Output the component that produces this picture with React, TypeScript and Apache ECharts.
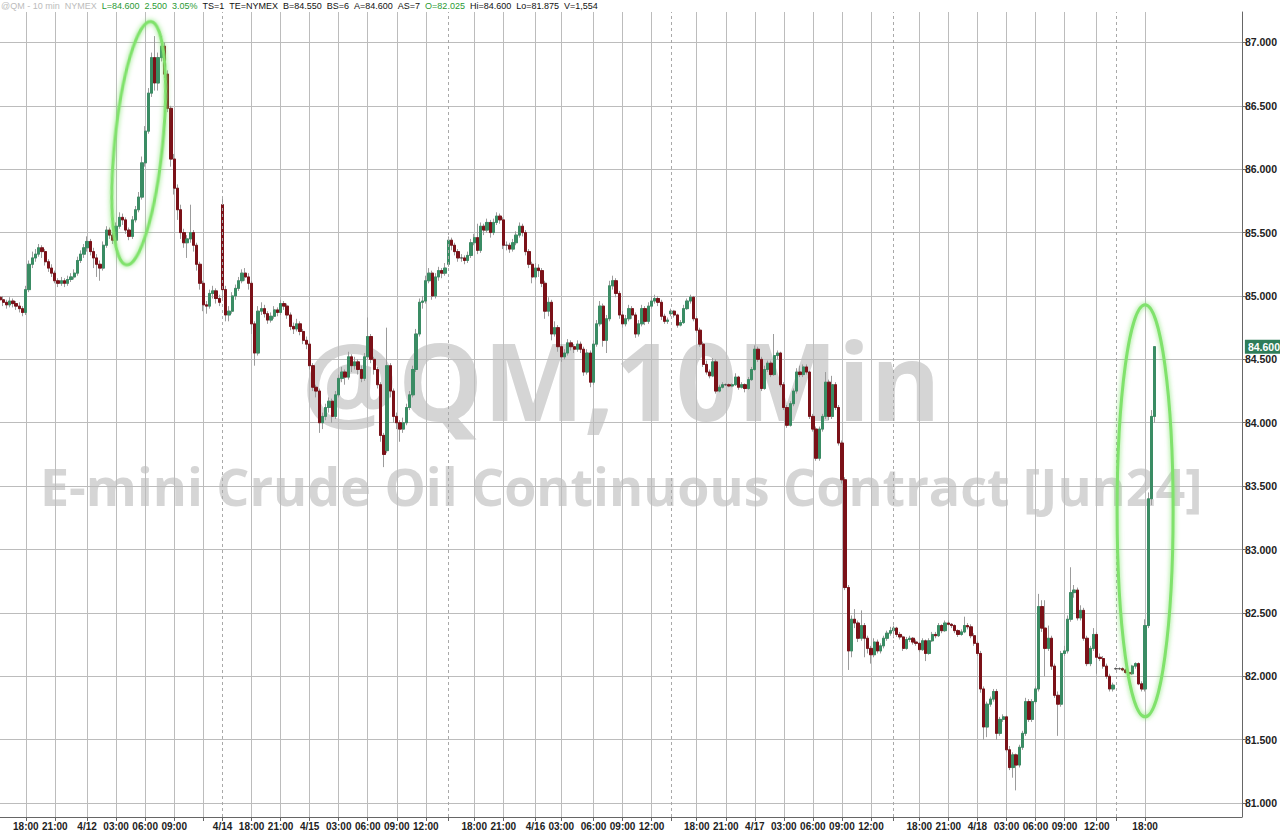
import React, { useEffect, useRef } from 'react';
import * as echarts from 'echarts';

// ---- DATA: 10-min candles, each [open, high, low, close], grouped by session ----
const session1 = [
  [84.99,85.02,84.94,84.97],[84.97,85.00,84.92,84.95],[84.95,84.97,84.90,84.93],[84.93,84.99,84.91,84.96],
  [84.96,84.98,84.91,84.94],[84.94,84.96,84.89,84.92],[84.92,84.95,84.87,84.90],[84.90,84.92,84.84,84.87],
  [84.87,85.08,84.85,85.05],[85.05,85.28,85.03,85.25],[85.25,85.35,85.22,85.30],[85.30,85.37,85.27,85.33],
  [85.33,85.41,85.31,85.38],[85.38,85.40,85.30,85.35],[85.35,85.37,85.24,85.27],[85.27,85.29,85.19,85.22],
  [85.22,85.25,85.15,85.18],[85.18,85.20,85.10,85.12],[85.12,85.14,85.07,85.10],[85.10,85.15,85.08,85.12],
  [85.12,85.14,85.07,85.10],[85.10,85.16,85.08,85.13],[85.13,85.18,85.11,85.15],[85.15,85.21,85.13,85.18],
  [85.18,85.31,85.16,85.28],[85.28,85.36,85.26,85.33],[85.33,85.41,85.30,85.38],[85.38,85.47,85.35,85.43],
  [85.43,85.45,85.32,85.35],[85.35,85.38,85.22,85.30],[85.30,85.33,85.15,85.25],[85.25,85.28,85.12,85.22],
  [85.22,85.43,85.20,85.40],[85.40,85.55,85.38,85.52],[85.52,85.54,85.45,85.48],[85.48,85.50,85.41,85.44],
  [85.44,85.58,85.42,85.55],[85.55,85.66,85.53,85.62],[85.62,85.65,85.56,85.60],[85.60,85.62,85.49,85.52],
  [85.52,85.54,85.44,85.47],[85.47,85.63,85.45,85.60],[85.60,85.71,85.58,85.68],[85.68,85.82,85.66,85.78],
  [85.78,86.10,85.76,86.05],[86.05,86.34,86.02,86.30],[86.30,86.64,86.28,86.60],[86.60,86.92,86.57,86.88],
  [86.88,87.05,86.62,86.68],[86.68,86.92,86.62,86.88],[86.88,87.05,86.85,86.97],[86.97,87.00,86.72,86.75],
  [86.75,86.78,86.45,86.48],[86.48,86.50,86.02,86.08],[86.08,86.12,85.80,85.85],[85.85,85.88,85.60,85.68],
  [85.68,85.72,85.45,85.50],[85.50,85.53,85.38,85.42],[85.42,85.48,85.30,85.45],[85.45,85.72,85.42,85.50],
  [85.50,85.52,85.35,85.40],[85.40,85.42,85.20,85.25],[85.25,85.27,85.05,85.10],[85.10,85.12,84.88,84.93],
  [84.93,84.96,84.86,84.92],[84.92,85.05,84.90,85.02],[85.02,85.08,84.98,85.04],[85.04,85.06,84.94,84.98],
  [84.98,85.01,84.92,84.95],
];
const session2 = [
  [85.72,85.78,84.98,85.05],[85.05,85.08,84.80,84.85],[84.85,84.92,84.80,84.88],[84.88,85.03,84.86,85.00],
  [85.00,85.09,84.97,85.06],[85.06,85.15,85.04,85.12],[85.12,85.21,85.10,85.18],[85.18,85.22,85.12,85.15],
  [85.15,85.18,85.05,85.10],[85.10,85.12,84.70,84.78],[84.78,84.80,84.45,84.55],[84.55,84.92,84.53,84.88],
  [84.88,84.95,84.85,84.90],[84.90,84.93,84.83,84.86],[84.86,84.88,84.78,84.81],[84.81,84.87,84.79,84.84],
  [84.84,84.92,84.82,84.89],[84.89,84.91,84.84,84.87],[84.87,84.97,84.85,84.94],[84.94,84.96,84.89,84.92],
  [84.92,84.94,84.82,84.85],[84.85,84.87,84.73,84.76],[84.76,84.79,84.70,84.74],[84.74,84.82,84.72,84.78],
  [84.78,84.80,84.69,84.72],[84.72,84.74,84.62,84.65],[84.65,84.68,84.58,84.62],[84.62,84.64,84.42,84.45],
  [84.45,84.47,84.25,84.28],[84.28,84.30,84.20,84.25],[84.25,84.27,83.92,84.00],[84.00,84.08,83.95,84.05],
  [84.05,84.15,84.02,84.12],[84.12,84.20,84.08,84.17],[84.17,84.19,84.00,84.05],[84.05,84.25,84.03,84.22],
  [84.22,84.38,84.20,84.35],[84.35,84.44,84.32,84.40],[84.40,84.42,84.30,84.36],[84.36,84.56,84.34,84.52],
  [84.52,84.54,84.40,84.45],[84.45,84.52,84.42,84.48],[84.48,84.50,84.38,84.42],[84.42,84.45,84.32,84.35],
  [84.35,84.55,84.33,84.52],[84.52,84.83,84.50,84.68],[84.68,84.70,84.47,84.50],[84.50,84.52,84.38,84.42],
  [84.42,84.44,84.27,84.30],[84.30,84.32,83.85,83.90],[83.90,83.92,83.65,83.75],[83.78,84.75,83.76,84.45],
  [84.45,84.47,84.20,84.25],[84.25,84.27,84.00,84.05],[84.05,84.08,83.95,84.00],[84.00,84.02,83.85,83.95],
  [83.95,84.04,83.92,84.00],[84.00,84.15,83.98,84.12],[84.12,84.25,84.10,84.22],[84.22,84.45,84.20,84.42],
  [84.42,84.74,84.40,84.70],[84.70,84.98,84.68,84.95],[84.95,85.00,84.90,84.96],[84.96,85.16,84.94,85.12],
  [85.12,85.22,85.10,85.18],[85.18,85.20,84.97,85.00],[85.00,85.18,84.98,85.15],[85.15,85.23,85.12,85.20],
  [85.20,85.22,85.14,85.18],[85.18,85.26,85.16,85.22],
];
const session3 = [
  [85.25,85.47,85.23,85.44],[85.44,85.46,85.36,85.40],[85.40,85.42,85.32,85.35],[85.35,85.37,85.27,85.30],
  [85.30,85.33,85.27,85.30],[85.30,85.32,85.25,85.28],[85.28,85.35,85.26,85.32],[85.32,85.45,85.30,85.42],
  [85.42,85.49,85.40,85.46],[85.46,85.57,85.33,85.36],[85.36,85.58,85.34,85.55],[85.55,85.57,85.48,85.52],
  [85.52,85.61,85.50,85.58],[85.58,85.60,85.46,85.50],[85.50,85.61,85.48,85.58],[85.58,85.66,85.56,85.63],
  [85.63,85.65,85.57,85.60],[85.60,85.62,85.37,85.40],[85.40,85.43,85.36,85.40],[85.40,85.42,85.34,85.37],
  [85.37,85.45,85.35,85.42],[85.42,85.51,85.40,85.48],[85.48,85.58,85.46,85.55],[85.55,85.57,85.47,85.50],
  [85.50,85.52,85.32,85.35],[85.35,85.37,85.22,85.25],[85.25,85.27,85.10,85.15],[85.15,85.26,85.13,85.22],
  [85.22,85.25,85.15,85.20],[85.20,85.22,85.07,85.10],[85.10,85.12,84.82,84.88],[84.88,84.99,84.84,84.95],
  [84.95,84.97,84.65,84.70],[84.70,84.80,84.68,84.75],[84.75,84.77,84.56,84.60],[84.60,84.62,84.48,84.52],
  [84.52,84.58,84.50,84.55],[84.55,84.66,84.53,84.63],[84.63,84.65,84.57,84.60],[84.60,84.62,84.55,84.58],
  [84.58,84.65,84.56,84.62],[84.62,84.64,84.55,84.58],[84.58,84.60,84.37,84.40],[84.40,84.58,84.38,84.55],
  [84.55,84.57,84.28,84.32],[84.32,84.65,84.30,84.62],[84.62,84.81,84.60,84.78],[84.78,84.96,84.76,84.92],
  [84.92,84.94,84.60,84.65],[84.65,84.85,84.55,84.82],[84.82,85.12,84.80,85.08],[85.08,85.16,85.05,85.12],
  [85.12,85.14,84.99,85.02],[85.02,85.04,84.82,84.85],[84.85,84.88,84.75,84.78],[84.78,84.85,84.76,84.82],
  [84.82,84.93,84.80,84.90],[84.90,84.92,84.82,84.85],[84.85,84.87,84.67,84.70],[84.70,84.81,84.68,84.78],
  [84.78,84.93,84.76,84.90],[84.90,84.92,84.77,84.80],[84.80,84.95,84.78,84.92],[84.92,85.00,84.90,84.96],
  [84.96,85.01,84.94,84.98],[84.98,85.00,84.92,84.95],[84.95,84.97,84.81,84.84],[84.84,84.86,84.78,84.80],
  [84.80,84.83,84.78,84.81],
];
const session4 = [
  [84.86,84.90,84.84,84.88],[84.88,84.89,84.83,84.85],[84.85,84.86,84.75,84.77],[84.77,84.81,84.76,84.79],
  [84.79,84.93,84.78,84.90],[84.90,84.98,84.89,84.96],[84.96,85.01,84.94,84.99],[84.99,85.00,84.80,84.82],
  [84.82,84.84,84.71,84.73],[84.73,84.75,84.60,84.62],[84.62,84.64,84.44,84.46],[84.46,84.49,84.38,84.40],
  [84.40,84.42,84.35,84.37],[84.37,84.51,84.36,84.48],[84.48,84.50,84.23,84.25],[84.25,84.30,84.24,84.28],
  [84.28,84.32,84.27,84.30],[84.30,84.31,84.29,84.30],[84.30,84.31,84.28,84.29],[84.29,84.31,84.28,84.30],
  [84.30,84.39,84.29,84.36],[84.36,84.37,84.26,84.28],[84.28,84.32,84.27,84.30],[84.30,84.31,84.24,84.27],
  [84.27,84.36,84.26,84.34],[84.34,84.44,84.33,84.42],[84.42,84.61,84.41,84.58],[84.58,84.60,84.48,84.50],
  [84.50,84.52,84.25,84.27],[84.27,84.45,84.26,84.42],[84.42,84.49,84.40,84.47],[84.47,84.49,84.36,84.38],
  [84.38,84.70,84.37,84.53],[84.53,84.57,84.50,84.55],[84.55,84.56,84.28,84.30],[84.30,84.32,84.10,84.12],
  [84.12,84.14,83.96,83.98],[83.98,84.17,83.97,84.15],[84.15,84.27,84.13,84.25],[84.25,84.43,84.23,84.40],
  [84.40,84.45,84.36,84.38],[84.38,84.46,84.36,84.44],[84.44,84.46,84.38,84.40],[84.40,84.41,84.03,84.05],
  [84.05,84.07,83.93,83.95],[83.95,83.97,83.70,83.72],[83.72,83.97,83.70,83.95],[83.95,84.07,83.93,84.05],
  [84.05,84.40,84.03,84.32],[84.32,84.34,84.02,84.05],[84.05,84.37,84.03,84.30],[84.30,84.32,84.10,84.12],
  [84.12,84.14,83.82,83.84],[83.84,83.86,83.52,83.55],[83.55,83.57,82.68,82.70],[82.70,82.72,82.05,82.20],
  [82.20,82.48,82.15,82.45],[82.45,82.53,82.38,82.42],[82.42,82.44,82.27,82.30],[82.30,82.52,82.28,82.40],
  [82.40,82.42,82.15,82.30],[82.30,82.32,82.18,82.22],[82.22,82.24,82.10,82.17],[82.17,82.30,82.15,82.27],
  [82.27,82.29,82.18,82.20],[82.20,82.26,82.18,82.24],[82.24,82.32,82.22,82.30],[82.30,82.36,82.28,82.34],
  [82.34,82.39,82.32,82.36],
];
const session5 = [
  [82.36,82.40,82.30,82.38],[82.38,82.39,82.31,82.33],[82.33,82.35,82.29,82.31],[82.31,82.32,82.20,82.22],
  [82.22,82.31,82.21,82.29],[82.29,82.32,82.27,82.30],[82.30,82.31,82.25,82.27],[82.27,82.29,82.24,82.26],
  [82.26,82.27,82.19,82.21],[82.21,82.30,82.20,82.28],[82.28,82.29,82.12,82.18],[82.18,82.30,82.17,82.28],
  [82.28,82.35,82.27,82.33],[82.33,82.35,82.30,82.32],[82.32,82.42,82.31,82.40],[82.40,82.41,82.34,82.36],
  [82.36,82.44,82.35,82.42],[82.42,82.44,82.40,82.41],[82.41,82.42,82.38,82.40],[82.40,82.41,82.34,82.36],
  [82.36,82.37,82.31,82.33],[82.33,82.37,82.32,82.35],[82.35,82.47,82.34,82.40],[82.40,82.42,82.37,82.39],
  [82.39,82.41,82.30,82.32],[82.32,82.34,82.24,82.26],[82.26,82.28,82.16,82.18],[82.18,82.20,81.87,81.90],
  [81.90,81.92,81.50,81.60],[81.60,81.80,81.52,81.78],[81.78,81.84,81.76,81.82],[81.82,81.90,81.80,81.88],
  [81.88,81.90,81.50,81.55],[81.55,81.68,81.53,81.66],[81.66,81.70,81.64,81.68],[81.68,81.69,81.40,81.42],
  [81.42,81.45,81.26,81.28],[81.28,81.40,81.20,81.38],[81.38,81.39,81.10,81.30],[81.30,81.46,81.28,81.44],
  [81.44,81.57,81.42,81.55],[81.55,81.83,81.53,81.80],[81.80,81.82,81.64,81.66],[81.66,81.82,81.64,81.80],
  [81.80,81.92,81.78,81.90],[81.90,82.65,81.88,82.55],[82.55,82.60,82.35,82.38],[82.38,82.60,82.00,82.22],
  [82.22,82.40,82.20,82.30],[82.30,82.32,82.05,82.08],[82.08,82.10,81.83,81.85],[81.85,81.88,81.53,81.78],
  [81.78,82.20,81.76,82.18],[82.18,82.24,82.16,82.20],[82.20,82.48,82.18,82.45],[82.45,82.86,82.43,82.66],
  [82.66,82.72,82.62,82.68],[82.68,82.70,82.44,82.46],[82.46,82.56,82.44,82.52],[82.52,82.54,82.28,82.30],
  [82.30,82.32,82.08,82.10],[82.10,82.24,82.08,82.22],[82.22,82.38,82.20,82.33],[82.33,82.35,82.02,82.15],
  [82.15,82.18,82.12,82.14],[82.14,82.16,82.06,82.08],[82.08,82.10,81.98,82.00],[82.00,82.02,81.88,81.90],
  [81.90,81.95,81.88,81.93],
];
const session6 = [
  [82.06,82.07,82.05,82.06],[82.06,82.07,82.05,82.06],[82.06,82.07,82.04,82.05],[82.05,82.06,82.02,82.03],
  [82.03,82.04,81.99,82.02],[82.02,82.09,82.01,82.08],[82.08,82.11,82.06,82.10],[82.10,82.11,81.93,81.94],
  [81.94,81.96,81.88,81.90],[81.90,82.45,81.88,82.40],[82.40,83.45,82.38,83.40],[83.40,84.10,83.35,84.05],
  [84.05,84.60,84.00,84.60],
];

// x-axis: bar slots (10-min bars incl. empty space to the right edge)
const SLOT_COUNT = 386;
const timeTickSlots = [8,17,27,36,45,54,63, 78,87,96,105,114,123,132, 147,156,166,174,184,193,202,
  216,225,234,243,252,261,270, 285,294,303,312,321,330,340, 355];
const timeTickLabels = ['18:00','21:00','4/12','03:00','06:00','09:00','',
  '18:00','21:00','4/15','03:00','06:00','09:00','12:00',
  '18:00','21:00','4/16','03:00','06:00','09:00','12:00',
  '18:00','21:00','4/17','03:00','06:00','09:00','12:00',
  '18:00','21:00','4/18','03:00','06:00','09:00','12:00',
  '18:00'];
const sessionSlots = [69, 139, 208, 277, 346];
const sessionLabels = ['4/14', '', '', '', ''];
const priceLevels = [81, 81.5, 82, 82.5, 83, 83.5, 84, 84.5, 85, 85.5, 86, 86.5, 87];

// header quote line
const headerTexts = ['@QM - 10 min  NYMEX', 'L=84.600', '2.500', '3.05%', 'TS=1', 'TE=NYMEX', 'B=84.550',
  'BS=6', 'A=84.600', 'AS=7', 'O=82.025', 'Hi=84.600', 'Lo=81.875', 'V=1,554'];
const headerKinds = ['muted', 'up', 'up', 'up', 'plain', 'plain', 'plain', 'plain', 'plain', 'plain', 'up', 'plain', 'plain', 'plain'];

// highlight ellipses: [slot, top price, bottom price]
const highlightSlots = [43, 355];
const highlightTop = [87.17, 84.93];
const highlightBottom = [85.24, 81.68];

// ---- STYLE / LAYOUT ----
const HEADER_COLORS: Record<string, string> = { muted: '#bcbcbc', up: '#2a9a34', plain: '#111111' };
const UP = '#3a8c64';
const DOWN = '#7b1118';
const WICK = '#9c9c9c';
const GRID = '#bcbcbc';
const AXIS_FONT = '"Liberation Sans Narrow", "Arial Narrow", Arial, sans-serif';
const HEADER_SIZE = 9;

export default function App() {
  const ref = useRef<HTMLDivElement>(null);

  useEffect(() => {
    if (!ref.current) return;
    const chart = echarts.init(ref.current, null, { renderer: 'svg' });

    const all = [...session1, ...session2, ...session3, ...session4, ...session5, ...session6];
    const full = all.map(([o, h, l, c]) => [o, c, l, h]);
    const bodies = all.map(([o, h, l, c]) => [o, c, Math.min(o, c), Math.max(o, c)]);
    const cats = Array.from({ length: SLOT_COUNT }, (_, i) => String(i));
    const lastClose = all[all.length - 1][3];

    const labelMap = new Map<number, string>();
    timeTickSlots.forEach((s, k) => labelMap.set(s, timeTickLabels[k]));
    sessionSlots.forEach((s, k) => { if (sessionLabels[k]) labelMap.set(s, sessionLabels[k]); });
    const solid = new Set(timeTickSlots);
    const tickSet = new Set([...timeTickSlots, ...sessionSlots]);

    chart.setOption({
      animation: false,
      backgroundColor: '#ffffff',
      grid: { left: 0, right: 36, top: 12, bottom: 14, containLabel: false },
      xAxis: {
        type: 'category',
        data: cats,
        boundaryGap: false,
        axisLine: { show: true, lineStyle: { color: '#666', width: 1 } },
        axisTick: { show: true, length: 4, interval: (i: number) => tickSet.has(i), lineStyle: { color: '#666' } },
        axisLabel: {
          show: true,
          interval: (i: number) => labelMap.has(i) && labelMap.get(i) !== '',
          formatter: (v: string) => labelMap.get(Number(v)) ?? '',
          color: '#222',
          fontSize: 10,
          fontWeight: 'bold',
          fontFamily: AXIS_FONT,
          margin: 4,
        },
        splitLine: { show: true, interval: (i: number) => solid.has(i), lineStyle: { color: GRID, width: 1 } },
      },
      yAxis: {
        type: 'value',
        position: 'right',
        min: 80.89,
        max: 87.24,
        axisLine: { show: true, lineStyle: { color: '#666', width: 1 } },
        axisTick: { show: true, length: 4, customValues: priceLevels, lineStyle: { color: '#666' } },
        axisLabel: {
          show: true,
          customValues: priceLevels,
          formatter: (v: number) => v.toFixed(3),
          color: '#222',
          fontSize: 10.5,
          fontWeight: 'bold',
          fontFamily: AXIS_FONT,
          margin: 3,
        },
        splitLine: { show: true, lineStyle: { color: GRID, width: 1 } },
      },
      series: [
        {
          name: 'wicks',
          type: 'candlestick',
          data: full,
          barWidth: 2.8,
          z: 3,
          itemStyle: {
            color: 'rgba(0,0,0,0)', color0: 'rgba(0,0,0,0)',
            borderColor: WICK, borderColor0: WICK, borderColorDoji: WICK, borderWidth: 1,
          },
          silent: true,
        },
        {
          name: '@QM',
          type: 'candlestick',
          data: bodies,
          barWidth: 2.8,
          z: 4,
          itemStyle: {
            color: UP, color0: DOWN,
            borderColor: UP, borderColor0: DOWN, borderColorDoji: '#555', borderWidth: 1,
          },
          silent: true,
          markLine: {
            silent: true,
            symbol: ['none', 'none'],
            animation: false,
            data: [
              ...sessionSlots.map((s) => ({
                xAxis: s,
                lineStyle: { type: [3, 3], color: '#a9a9a9', width: 1 },
                label: { show: false },
              })),
              {
                yAxis: lastClose,
                lineStyle: { color: 'rgba(0,0,0,0)', width: 0 },
                label: {
                  show: true,
                  position: 'end',
                  formatter: lastClose.toFixed(3),
                  backgroundColor: '#2e7d59',
                  color: '#ffffff',
                  padding: [2, 3, 1, 3],
                  fontSize: 10.5,
                  fontWeight: 'bold',
                  fontFamily: AXIS_FONT,
                  distance: 3,
                },
              },
            ],
          },
        },
      ],
    });

    const px = (slot: number, price: number) =>
      chart.convertToPixel({ xAxisIndex: 0, yAxisIndex: 0 }, [slot, price]) as number[];

    const ellipses = highlightSlots.map((slot, k) => {
      const top = px(slot, highlightTop[k]);
      const bot = px(slot, highlightBottom[k]);
      const cx = top[0];
      const cy = (top[1] + bot[1]) / 2;
      const ry = (bot[1] - top[1]) / 2;
      return {
        type: 'ellipse',
        x: cx,
        y: cy,
        rotation: k === 0 ? -0.1 : 0,
        shape: { cx: 0, cy: 0, rx: k === 0 ? 24 : 28, ry },
        style: {
          fill: 'none',
          stroke: '#80e26c',
          lineWidth: 3,
          shadowBlur: 5,
          shadowColor: 'rgba(120,225,100,0.9)',
        },
        z: 100,
        silent: true,
      };
    });

    const headerRich = headerTexts.map((t, k) => `{${headerKinds[k]}|${t}}`).join('  ');

    chart.setOption({
      graphic: {
        elements: [
          {
            type: 'text',
            x: 302,
            y: 379,
            z: -10,
            silent: true,
            style: {
              text: '@QM,10Min',
              fill: '#d5d5d5',
              fontSize: 107,
              fontWeight: 'bold',
              fontFamily: '"Open Sans", sans-serif',
              verticalAlign: 'middle',
              align: 'left',
            },
          },
          {
            type: 'text',
            x: 40,
            y: 485,
            z: -10,
            silent: true,
            style: {
              text: 'E-mini Crude Oil Continuous Contract [Jun24]',
              fill: '#d5d5d5',
              fontSize: 52,
              fontWeight: 'bold',
              fontFamily: '"Open Sans", sans-serif',
              verticalAlign: 'middle',
              align: 'left',
            },
          },
          ...ellipses,
          {
            type: 'text',
            x: 1,
            y: 6,
            z: 100,
            silent: true,
            style: {
              text: headerRich,
              fill: '#111111',
              fontSize: HEADER_SIZE,
              fontFamily: AXIS_FONT,
              verticalAlign: 'middle',
              align: 'left',
              rich: {
                muted: { fill: HEADER_COLORS.muted, fontSize: HEADER_SIZE, fontFamily: AXIS_FONT },
                up: { fill: HEADER_COLORS.up, fontSize: HEADER_SIZE, fontFamily: AXIS_FONT },
                plain: { fill: HEADER_COLORS.plain, fontSize: HEADER_SIZE, fontFamily: AXIS_FONT },
              },
            },
          },
        ],
      },
    });

    return () => chart.dispose();
  }, []);

  return (
    <div
      ref={ref}
      style={{ position: 'fixed', left: 0, top: 0, width: 1280, height: 831, background: '#fff' }}
    />
  );
}
